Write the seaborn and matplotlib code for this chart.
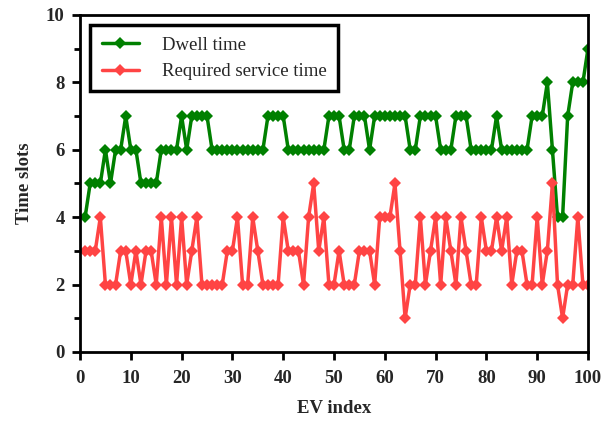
import matplotlib
matplotlib.use("Agg")
import matplotlib.pyplot as plt
import seaborn as sns
import pandas as pd
from matplotlib.ticker import MultipleLocator

ev_index = list(range(1, 101))
dwell_time = [4, 5, 5, 5, 6, 5, 6, 6, 7, 6,
              6, 5, 5, 5, 5, 6, 6, 6, 6, 7,
              6, 7, 7, 7, 7, 6, 6, 6, 6, 6,
              6, 6, 6, 6, 6, 6, 7, 7, 7, 7,
              6, 6, 6, 6, 6, 6, 6, 6, 7, 7,
              7, 6, 6, 7, 7, 7, 6, 7, 7, 7,
              7, 7, 7, 7, 6, 6, 7, 7, 7, 7,
              6, 6, 6, 7, 7, 7, 6, 6, 6, 6,
              6, 7, 6, 6, 6, 6, 6, 6, 7, 7,
              7, 8, 6, 4, 4, 7, 8, 8, 8, 9]
service_time = [3, 3, 3, 4, 2, 2, 2, 3, 3, 2,
                3, 2, 3, 3, 2, 4, 2, 4, 2, 4,
                2, 3, 4, 2, 2, 2, 2, 2, 3, 3,
                4, 2, 2, 4, 3, 2, 2, 2, 2, 4,
                3, 3, 3, 2, 4, 5, 3, 4, 2, 2,
                3, 2, 2, 2, 3, 3, 3, 2, 4, 4,
                4, 5, 3, 1, 2, 2, 4, 2, 3, 4,
                2, 4, 3, 2, 4, 3, 2, 2, 4, 3,
                3, 4, 3, 4, 2, 3, 3, 2, 2, 4,
                2, 3, 5, 2, 1, 2, 2, 4, 2, 2]
series_names = ["Dwell time", "Required service time"]
x_ticks = [0, 10, 20, 30, 40, 50, 60, 70, 80, 90, 100]
y_ticks = [0, 2, 4, 6, 8, 10]

df = pd.DataFrame({
    "EV index": ev_index * 2,
    "Time slots": dwell_time + service_time,
    "Series": [series_names[0]] * len(ev_index) + [series_names[1]] * len(ev_index),
})

sns.set_theme(style="white")
plt.rcParams["font.family"] = ["Liberation Serif", "DejaVu Serif"]

fig = plt.figure(figsize=(6.03, 4.22), dpi=100)
ax = fig.add_axes([0.1327, 0.166, 0.8424, 0.7985])

palette = {series_names[0]: "#008000", series_names[1]: "#FF4444"}
sns.lineplot(data=df, x="EV index", y="Time slots", hue="Series",
             palette=palette, marker="D", markersize=6, linewidth=2.5,
             markeredgewidth=0, ax=ax)

ax.set_xlim(0, 100)
ax.set_ylim(0, 10)
ax.set_xticks(x_ticks)
ax.set_yticks(y_ticks)
ax.yaxis.set_minor_locator(MultipleLocator(1))
ax.tick_params(axis="both", which="major", direction="out", length=6, width=2,
               labelsize=13.5, color="black", pad=5,
               bottom=True, left=True, top=False, right=False)
ax.tick_params(axis="x", which="major", pad=7)
ax.tick_params(axis="y", which="minor", direction="out", length=4, width=2,
               left=True, color="black")
for lbl in ax.get_xticklabels() + ax.get_yticklabels():
    lbl.set_fontweight("bold")
for sp in ax.spines.values():
    sp.set_visible(True)
    sp.set_color("black")
    sp.set_linewidth(2)

ax.set_xlabel("EV index", fontsize=13.5, fontweight="bold", labelpad=9)
ax.set_ylabel("Time slots", fontsize=13.5, fontweight="bold", labelpad=9)

leg = ax.legend(loc="upper left", fontsize=13.5, handlelength=2.0,
                handletextpad=1.2, labelspacing=0.5, borderpad=0.6,
                borderaxespad=0.55, fancybox=False, frameon=True,
                framealpha=1)
leg.get_frame().set_edgecolor("black")
leg.get_frame().set_linewidth(2.5)
leg.set_title(None)

fig.savefig("out.png", dpi=100)
